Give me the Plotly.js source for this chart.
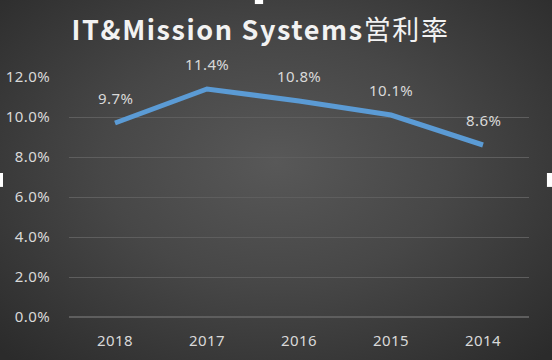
<!DOCTYPE html>
<html><head><meta charset="utf-8">
<script src="https://cdn.plot.ly/plotly-3.0.1.min.js"></script>
<style>
html,body{margin:0;padding:0;background:#3a3a3a;}
#chart{width:552px;height:360px;background:radial-gradient(ellipse 70% 75% at 50% 45%, #585858 0%, #474747 45%, #2b2b2b 100%);}
.gtitle{letter-spacing:1.6px;}
.xtick text,.ytick text,.annotation-text{letter-spacing:0.4px;}
</style></head>
<body><div id="chart"></div>
<script>
var years = ['2018','2017','2016','2015','2014'];
var margins = [9.7, 11.4, 10.8, 10.1, 8.6];
var labels = ['9.7%','11.4%','10.8%','10.1%','8.6%'];
var yTicks = [0,2,4,6,8,10,12];
var yTickText = ['0.0%','2.0%','4.0%','6.0%','8.0%','10.0%','12.0%'];

var trace = {x: years, y: margins, type:'scatter', mode:'lines',
  line:{color:'#5B9BD5', width:5, shape:'linear'}, hoverinfo:'none'};

var annotations = years.map(function(yr,i){
  return {x: i, y: margins[i], xref:'x', yref:'y', text: labels[i], showarrow:false,
    yshift: 25, font:{family:'Noto Sans, sans-serif', size:15, color:'#d9d9d9'}};
});

var tf = {family:'Noto Sans, sans-serif', size:15, color:'#d9d9d9'};
var layout = {
  width:552, height:360,
  margin:{l:69, r:23, t:77, b:43},
  paper_bgcolor:'rgba(0,0,0,0)', plot_bgcolor:'rgba(0,0,0,0)',
  title:{text:'<b>IT&Mission Systems</b>営利率', x:0.472, xanchor:'center', y:0.915, yanchor:'middle',
    font:{family:'Noto Sans CJK JP, Noto Sans, sans-serif', size:27, color:'#f2f2f2'}},
  showlegend:false,
  xaxis:{type:'category', range:[-0.5,4.5], showgrid:false, zeroline:false, showline:false,
    ticks:'outside', ticklen:10, tickcolor:'rgba(0,0,0,0)', tickfont:tf, fixedrange:true},
  yaxis:{range:[0,12], tickvals:yTicks, ticktext:yTickText, showgrid:true, gridcolor:'#5e5e5e', gridwidth:1,
    zeroline:true, zerolinecolor:'#5e5e5e', zerolinewidth:1.5, showline:false,
    ticks:'outside', ticklen:15, tickcolor:'rgba(0,0,0,0)', tickfont:tf, fixedrange:true},
  annotations: annotations,
  shapes:[
    {type:'rect', xref:'paper', yref:'paper', x0:0.404, x1:0.422, y0:1.304, y1:1.33, fillcolor:'#ffffff', line:{width:0}},
    {type:'rect', xref:'paper', yref:'paper', x0:-0.16, x1:-0.1435, y0:0.542, y1:0.6, fillcolor:'#ffffff', line:{width:0}},
    {type:'rect', xref:'paper', yref:'paper', x0:1.039, x1:1.06, y0:0.542, y1:0.6, fillcolor:'#ffffff', line:{width:0}}
  ]
};
Plotly.newPlot('chart', [trace], layout, {displayModeBar:false, staticPlot:true});
</script></body></html>
